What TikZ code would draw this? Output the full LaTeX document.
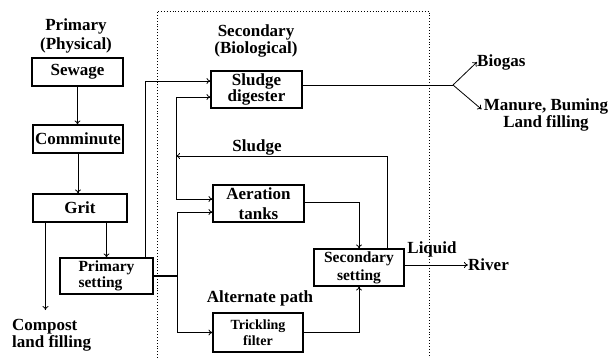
\documentclass[tikz,border=0pt]{standalone}
\usepackage{fontspec}
\setmainfont{Liberation Serif}
\usetikzlibrary{arrows.meta,positioning,calc}

\begin{document}
\begin{tikzpicture}[
    x=1pt, y=-1pt,
    unit/.style={draw, rectangle, line width=1.1pt, align=center, inner sep=1pt, minimum width=91pt, minimum height=37pt, font=\fontsize{17}{15}\selectfont\bfseries},
    note/.style={inner sep=0pt, align=center, font=\fontsize{17}{19}\selectfont\bfseries},
    arrow/.style={-{To[length=4pt,width=6pt]}, line width=0.8pt},
    link/.style={line width=0.8pt}
  ]
    \useasboundingbox (0,0) rectangle (610,358);

    % treatment stages
    \node (sewage) [unit, minimum height=28pt] at (77.5,72) {Sewage};
    \node (comminute) [unit, minimum width=90pt, minimum height=28pt] at (78,139) {Comminute};
    \node (grit) [unit, minimum width=94pt, minimum height=28pt] at (80,208) {Grit};
    \node (primary) [unit, minimum width=93pt, minimum height=36pt, align=left, font=\fontsize{15.5}{16}\selectfont\bfseries] at (106.5,276) {Primary\\setting};
    \node (digester) [unit, font=\fontsize{17}{14}\selectfont\bfseries] at (256.5,89.5) {Sludge\\digester};
    \node (aeration) [unit, font=\fontsize{17}{20}\selectfont\bfseries] at (258.5,203.5) {Aeration\\tanks};
    \node (secondary) [unit, minimum width=90pt, font=\fontsize{15.5}{18}\selectfont\bfseries] at (359,267.5) {Secondary\\setting};
    \node (trickling) [unit, minimum width=90pt, minimum height=39pt, font=\fontsize{14}{16}\selectfont\bfseries] at (258,332.5) {Trickling\\filter};

    % headings and outlets
    \node (primhead) [note] at (76,36) {Primary\\(Physical)};
    \node (sechead) [note, font=\fontsize{17}{15}\selectfont\bfseries] at (256,41) {Secondary\\(Biological)};
    \node (compost) [note, align=left, anchor=north west, font=\fontsize{17}{17}\selectfont\bfseries] at (12,319) {Compost\\land filling};
    \node (sludge) [note] at (257,147) {Sludge};
    \node (alternate) [note] at (260,298) {Alternate path};
    \node (liquid) [note] at (432,249) {Liquid};
    \node (biogas) [note, anchor=west] at (477,62) {Biogas};
    \node (manure) [note, anchor=north, font=\fontsize{17}{12}\selectfont\bfseries] at (546,99) {Manure, Buming\\Land filling};
    \node (river) [note, anchor=west] at (468,265) {River};

    \coordinate (junction) at (177,276);
    \coordinate (return) at (176,156);
    \coordinate (split) at (453,85);

    \draw [dotted, line width=0.9pt] (157,358) |- (429,11) -- (429,358);

    \draw [arrow] (sewage.south) -- (sewage.south |- comminute.north);
    \draw [arrow] (comminute.south) -- (comminute.south |- grit.north);
    \draw [arrow, shorten >=9pt] ([xshift=13pt]grit.south west) -- ([xshift=13pt]grit.south west |- compost.north);
    \draw [arrow] (primary.north |- grit.south) -- (primary.north);
    \draw [arrow] ([xshift=-8pt]primary.north east) |- ([yshift=8.5pt]digester.west);
    \draw [link, line width=1.6pt] (primary.east) -- (junction);
    \draw [arrow] (junction) |- ([yshift=-8.5pt]aeration.west);
    \draw [arrow] (junction) |- (trickling.west);
    \draw [arrow] ([yshift=1.5pt]aeration.east) -| (secondary.north);
    \draw [arrow] (trickling.east) -| (secondary.south);
    \draw [arrow] ([xshift=28pt]secondary.north) |- (return);
    \draw [arrow] (return) |- ([yshift=-7.5pt]digester.west);
    \draw [arrow] (return) |- ([yshift=4.5pt]aeration.west);
    \draw [link] ([yshift=4.5pt]digester.east) -- (split);
    \draw [arrow] (split) -- (biogas.west);
    \draw [arrow] (split) -- ([xshift=-2pt,yshift=6pt]manure.west);
    \draw [arrow] (secondary.east |- river.west) -- (river.west);
\end{tikzpicture}
\end{document}
